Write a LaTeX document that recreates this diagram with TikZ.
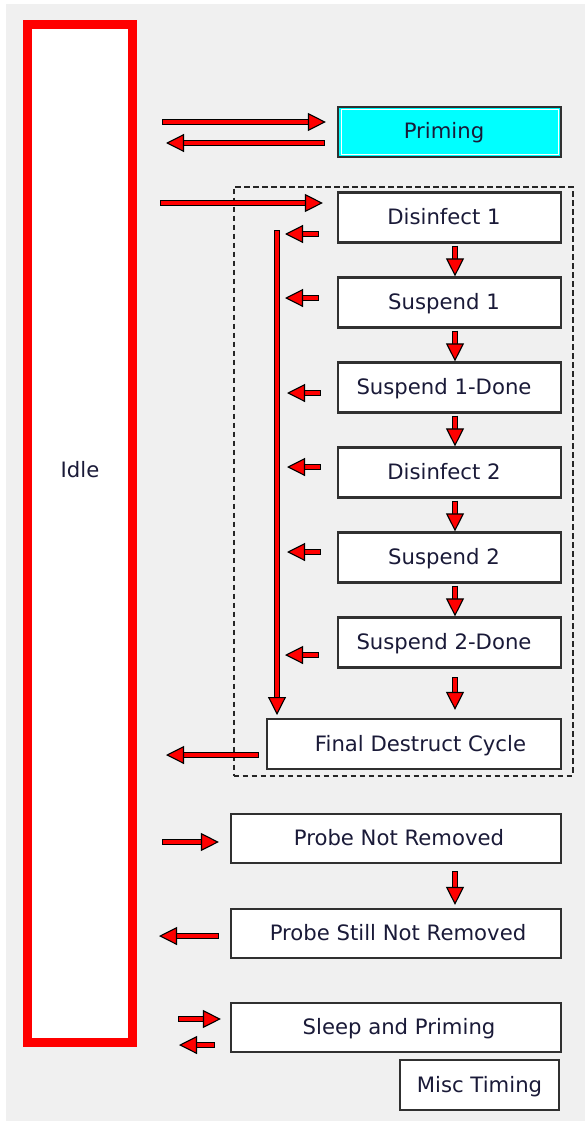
\documentclass[tikz,border=0pt]{standalone}
\usepackage{fontspec}
\setmainfont{DejaVu Sans}
\usetikzlibrary{arrows.meta,calc}
\definecolor{bg}{HTML}{F0F0F0}
\definecolor{txt}{HTML}{1A1A38}
\definecolor{boxline}{HTML}{303030}
\definecolor{aqua}{HTML}{00FFFF}
\begin{document}
\begin{tikzpicture}[x=1pt,y=-1pt,
  font=\fontsize{21.2pt}{25pt}\selectfont, text=txt,
  box/.style={draw=boxline, line width=2.2pt, fill=white, inner sep=0pt,
    text height=16pt, text depth=2pt},
  colbox/.style={box, minimum width=223pt, minimum height=50pt},
  widebox/.style={box, minimum width=330pt, minimum height=49pt},
  fat/.style={draw=red, line width=3.4pt,
    preaction={draw=black, line width=6.4pt, -, shorten >=8pt, shorten <=-0.9pt},
    -{Triangle[length=18pt,width=18pt,fill=red,color=black,line width=1.1pt]}},
  group/.style={draw=black!85, line width=2pt, dash pattern=on 5.5pt off 3.5pt, inner sep=0pt}
]
\useasboundingbox (0,0) rectangle (585,1121);
\fill[white] (0,0) rectangle (585,1121);
\fill[bg] (6,4) rectangle (585,1121);

% Idle
\node[draw=red, line width=9pt, fill=white, inner sep=0pt,
      minimum width=105pt, minimum height=1018pt] (idle) at (80,533.5) {};
\node[inner sep=0pt, text height=16pt, text depth=2pt] (idletext) at (80,470) {Idle};

% dashed group
\node[group, minimum width=339pt, minimum height=589pt] (grp) at (403,481) {};

% right column
\node[colbox, fill=aqua] (priming) at (449.5,132) {Priming\hspace*{11pt}};
\draw[white, line width=1pt] ([shift={(-108.5,-22)}]priming.center) rectangle ([shift={(108.5,22)}]priming.center);
\node[colbox] (d1) at (449.5,217.5) {Disinfect 1\hspace*{11pt}};
\node[colbox] (s1) at (449.5,302.5) {Suspend 1\hspace*{11pt}};
\node[colbox] (s1d) at (449.5,387.5) {Suspend 1-Done\hspace*{11pt}};
\node[colbox] (d2) at (449.5,472.5) {Disinfect 2\hspace*{11pt}};
\node[colbox] (s2) at (449.5,557.5) {Suspend 2\hspace*{11pt}};
\node[colbox] (s2d) at (449.5,642.5) {Suspend 2-Done\hspace*{11pt}};
\node[box, minimum width=294pt, minimum height=50pt] (final) at (414,744) {\hspace*{13pt}Final Destruct Cycle};

% bottom
\node[widebox] (pnr) at (396,838.5) {\hspace*{6pt}Probe Not Removed};
\node[widebox] (psnr) at (396,933.5) {\hspace*{4pt}Probe Still Not Removed};
\node[widebox] (sleep) at (396,1027.5) {\hspace*{6pt}Sleep and Priming};
\node[box, minimum width=159pt, minimum height=50pt] (misc) at (479.5,1085) {Misc Timing};

% free ends
\coordinate (a1s) at (163,122);
\coordinate (a2e) at (166,143);
\coordinate (a3s) at (161,203);
\coordinate (a4s) at (318,234); \coordinate (a4e) at (285,234);
\coordinate (a5s) at (318,298); \coordinate (a5e) at (285,298);
\coordinate (a6s) at (320,393); \coordinate (a6e) at (287,393);
\coordinate (a7s) at (320,467); \coordinate (a7e) at (287,467);
\coordinate (a8s) at (320,552); \coordinate (a8e) at (287,552);
\coordinate (a9s) at (318,655); \coordinate (a9e) at (285,655);
\coordinate (vs) at (277,231); \coordinate (ve) at (277,715);
\coordinate (a10e) at (166,755);
\coordinate (a11s) at (163,842);
\coordinate (a12e) at (159,936);
\coordinate (a13s) at (179,1019);
\coordinate (a14e) at (179,1045);

% connectors
\draw[fat] (a1s) -- ([xshift=-11pt,yshift=10pt]priming.west);
\draw[fat] ([xshift=-13pt,yshift=-11pt]priming.west) -- (a2e);
\draw[fat] (a3s) -- ([xshift=-14pt,yshift=14.5pt]d1.west);
\draw[fat] (a4s) -- (a4e);
\draw[fat] (a5s) -- (a5e);
\draw[fat] (a6s) -- (a6e);
\draw[fat] (a7s) -- (a7e);
\draw[fat] (a8s) -- (a8e);
\draw[fat] (a9s) -- (a9e);
\draw[fat] (vs) -- (ve);

\draw[fat] ([xshift=5.5pt,yshift=-3pt]d1.south) -- ([xshift=5.5pt]s1.north);
\draw[fat] ([xshift=5.5pt,yshift=-3pt]s1.south) -- ([xshift=5.5pt]s1d.north);
\draw[fat] ([xshift=5.5pt,yshift=-3pt]s1d.south) -- ([xshift=5.5pt]d2.north);
\draw[fat] ([xshift=5.5pt,yshift=-3pt]d2.south) -- ([xshift=5.5pt]s2.north);
\draw[fat] ([xshift=5.5pt,yshift=-3pt]s2.south) -- ([xshift=5.5pt]s2d.north);
\draw[fat] ([xshift=5.5pt,yshift=-9.5pt]s2d.south) -- ([xshift=41pt,yshift=8pt]final.north);

\draw[fat] ([xshift=-8pt,yshift=-11pt]final.west) -- (a10e);
\draw[fat] (a11s) -- ([xshift=-11pt,yshift=-3.5pt]pnr.west);
\draw[fat] ([xshift=59pt,yshift=-8pt]pnr.south) -- ([xshift=59pt,yshift=3pt]psnr.north);
\draw[fat] ([xshift=-12pt,yshift=-2.5pt]psnr.west) -- (a12e);
\draw[fat] (a13s) -- ([xshift=-9pt,yshift=8.5pt]sleep.west);
\draw[fat] ([xshift=-16pt,yshift=-17.5pt]sleep.west) -- (a14e);
\end{tikzpicture}
\end{document}
